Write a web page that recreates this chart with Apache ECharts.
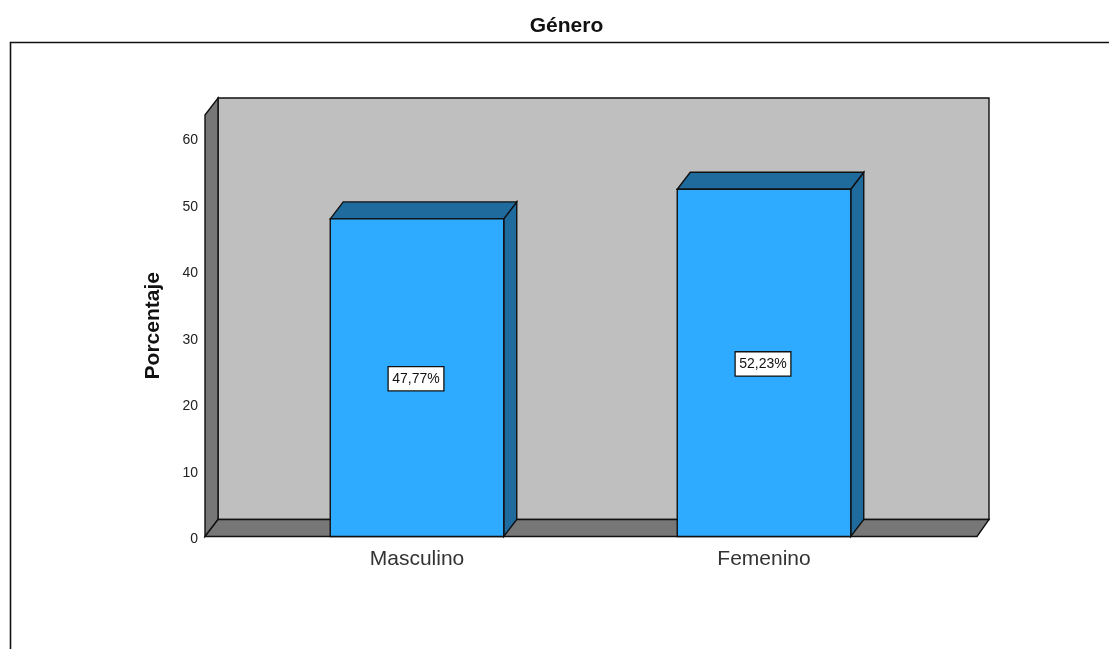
<!DOCTYPE html>
<html>
<head>
<meta charset="utf-8">
<style>html,body{margin:0;padding:0;background:#fff}#c{width:1109px;height:649px}</style>
<script src="https://cdn.jsdelivr.net/npm/echarts@6/dist/echarts.min.js"></script>
</head>
<body>
<div id="c"></div>
<script>
const categories = ['Masculino', 'Femenino'];
const percentages = [47.77, 52.23];
const titleText = 'Género';
const yAxisName = 'Porcentaje';

const font = '"Liberation Sans", Arial, sans-serif';
const depthX = 13, depthY = 17;
const overhangLeft = 38.5, overhangRight = 39.5;
const edge = { stroke: '#111', lineWidth: 1.4 };

function poly(points, fill) {
  return { type: 'polygon', shape: { points: points }, style: Object.assign({ fill: fill }, edge) };
}

function renderWalls(params, api) {
  const cs = params.coordSys;
  const l = cs.x - overhangLeft, r = cs.x + cs.width + overhangRight;
  const t = cs.y, b = cs.y + cs.height;
  return { type: 'group', children: [
    poly([[l + depthX, t - depthY], [r + depthX - 1, t - depthY], [r + depthX - 1, b - depthY], [l + depthX, b - depthY]], '#bfbfbf'),
    poly([[l, t], [l + depthX, t - depthY], [l + depthX, b - depthY], [l, b]], '#777777'),
    poly([[l, b], [l + depthX, b - depthY], [r + depthX - 1, b - depthY], [r, b]], '#777777')
  ]};
}

function renderBar(params, api) {
  const top = api.coord([api.value(0), api.value(1)]);
  const base = api.coord([api.value(0), 0]);
  const w = api.size([1, 0])[0] * 0.5;
  const l = top[0] - w / 2, r = top[0] + w / 2;
  const t = top[1], b = base[1];
  const txt = api.value(1).toFixed(2).replace('.', ',') + '%';
  return { type: 'group', children: [
    poly([[r, t], [r + depthX, t - depthY], [r + depthX, b - depthY], [r, b]], '#1f6b9e'),
    poly([[l, t], [l + depthX, t - depthY], [r + depthX, t - depthY], [r, t]], '#1f6b9e'),
    poly([[l, t], [r, t], [r, b], [l, b]], '#2eabff'),
    { type: 'text', style: {
        text: txt, x: top[0] - 1, y: (t + b) / 2 + 1, align: 'center', verticalAlign: 'middle',
        fill: '#111', font: '14px ' + font, backgroundColor: '#fff',
        borderColor: '#111', borderWidth: 1.3, padding: [5, 3.5, 4, 3.5]
    } }
  ]};
}

const chart = echarts.init(document.getElementById('c'), null, { renderer: 'canvas' });
chart.setOption({
  animation: false,
  backgroundColor: '#fff',
  title: {
    text: titleText, left: 561.5, top: 11, textAlign: 'center',
    textStyle: { fontFamily: font, fontSize: 21, fontWeight: 'bold', color: '#111' }
  },
  grid: { left: 243.5, right: 171.5, top: 115, bottom: 112.5 },
  xAxis: {
    type: 'category', data: categories,
    axisLine: { show: false }, axisTick: { show: false }, splitLine: { show: false },
    axisLabel: { fontFamily: font, fontSize: 21, color: '#333', margin: 12 }
  },
  yAxis: {
    type: 'value', min: 0, max: 63.4, interval: 10, offset: 38.5,
    name: yAxisName, nameLocation: 'middle', nameRotate: 90, nameGap: 41,
    nameTextStyle: { fontFamily: font, fontSize: 21, fontWeight: 'bold', color: '#111' },
    axisLine: { show: false }, axisTick: { show: false }, splitLine: { show: false },
    axisLabel: {
      margin: 7, showMaxLabel: false,
      formatter: v => '{t|' + v + '}',
      rich: { t: { fontFamily: font, fontSize: 14, color: '#222', padding: [6, 0, 0, 0] } }
    }
  },
  series: [
    { type: 'custom', renderItem: renderWalls, data: [[0, 0]], clip: false, silent: true, z: 1 },
    { type: 'custom', renderItem: renderBar, data: percentages.map((v, i) => [i, v]), clip: false, silent: true, z: 2 }
  ],
  graphic: [{
    type: 'polyline', silent: true,
    shape: { points: [[10.5, 649], [10.5, 42.5], [1109, 42.5]] },
    style: { stroke: '#111', lineWidth: 1.6, fill: 'none' }
  }]
});
</script>
</body>
</html>
